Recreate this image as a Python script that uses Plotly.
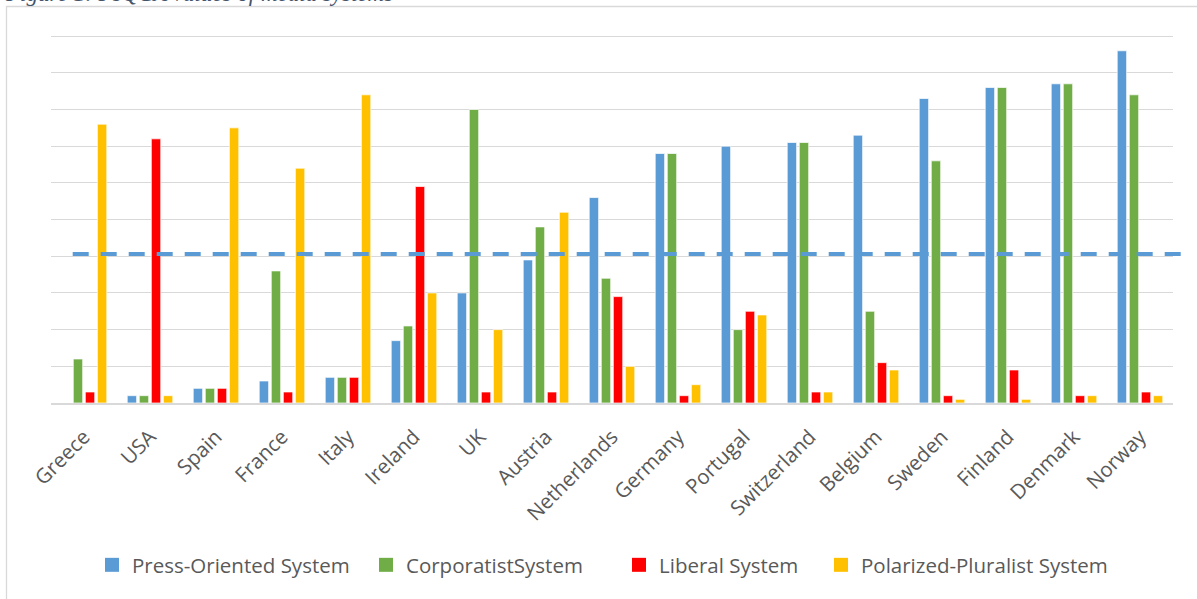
import plotly.graph_objects as go

# Fuzzy-set membership of each country's media system in four ideal types
countries = ["Greece", "USA", "Spain", "France", "Italy", "Ireland", "UK", "Austria",
             "Netherlands", "Germany", "Portugal", "Switzerland", "Belgium", "Sweden",
             "Finland", "Denmark", "Norway"]

press_oriented = [0.00, 0.02, 0.04, 0.06, 0.07, 0.17, 0.30, 0.39, 0.56, 0.68, 0.70,
                  0.71, 0.73, 0.83, 0.86, 0.87, 0.96]
corporatist = [0.12, 0.02, 0.04, 0.36, 0.07, 0.21, 0.80, 0.48, 0.34, 0.68, 0.20,
               0.71, 0.25, 0.66, 0.86, 0.87, 0.84]
liberal = [0.03, 0.72, 0.04, 0.03, 0.07, 0.59, 0.03, 0.03, 0.29, 0.02, 0.25,
           0.03, 0.11, 0.02, 0.09, 0.02, 0.03]
polarized_pluralist = [0.76, 0.02, 0.75, 0.64, 0.84, 0.30, 0.20, 0.52, 0.10, 0.05, 0.24,
                       0.03, 0.09, 0.01, 0.01, 0.02, 0.02]

series_names = ["Press-Oriented System", "CorporatistSystem", "Liberal System",
                "Polarized-Pluralist System"]
threshold = 0.406

W, H = 1197, 599
M_L, M_R, M_T, M_B = 51, 24, 35, 196
plot_w = W - M_L - M_R
plot_h = H - M_T - M_B


def px_x(p):
    return (p - M_L) / plot_w


def px_y(p):
    return (H - M_B - p) / plot_h


colors = ["#5B9BD5", "#70AD47", "#FF0000", "#FFC000"]
label_font = "Open Sans, Noto Sans, sans-serif"
grey_text = "#595959"

# Each series gets its own one-entry legend so the entries can be spaced freely
legend_ids = ["legend", "legend2", "legend3", "legend4"]
legend_text_x = [132, 406, 659, 861]

fig = go.Figure()
for name, vals, col, lid in zip(series_names,
                                [press_oriented, corporatist, liberal, polarized_pluralist],
                                colors, legend_ids):
    fig.add_trace(go.Bar(
        x=countries, y=vals, name=name, legendgroup=name, showlegend=False,
        marker=dict(color=col, line=dict(color="white", width=0.7)),
    ))
    fig.add_trace(go.Scatter(
        x=[None], y=[None], mode="markers", name=name, legendgroup=name,
        legend=lid, showlegend=True,
        marker=dict(symbol="square", size=14, color=col, line=dict(width=0)),
    ))

# Dashed threshold line across the chart
fig.add_shape(type="line", xref="paper", yref="y",
              x0=px_x(72.7), x1=px_x(1181), y0=threshold, y1=threshold,
              line=dict(color="#5B9BD5", width=4, dash="16px,12px"), layer="above")

# Chart-area frame
fig.add_shape(type="rect", xref="paper", yref="paper",
              x0=px_x(6.5), x1=px_x(1230), y0=px_y(630), y1=px_y(6.5),
              line=dict(color="#D9D9D9", width=1.3), fillcolor="rgba(0,0,0,0)",
              layer="below")

# Caption above the chart
fig.add_annotation(text="Figure 1: FsQCA values of media systems",
                   xref="paper", yref="paper", x=px_x(4), y=px_y(7),
                   xanchor="left", yanchor="bottom", showarrow=False,
                   borderpad=0,
                   font=dict(family="Liberation Serif, Times New Roman, serif",
                             size=23, color="#44546A", style="italic"))

legend_style = dict(orientation="h", y=px_y(565), xanchor="left", yanchor="middle",
                    font=dict(family=label_font, size=20.5, color=grey_text),
                    bgcolor="rgba(0,0,0,0)", borderwidth=0)
legends = {lid: dict(legend_style, x=px_x(tx - 40))
           for lid, tx in zip(legend_ids, legend_text_x)}

fig.update_layout(
    width=W, height=H,
    margin=dict(l=M_L, r=M_R, t=M_T, b=M_B),
    paper_bgcolor="white", plot_bgcolor="white",
    barmode="group", bargap=0.27, bargroupgap=0.22,
    showlegend=True,
    font=dict(family=label_font, color=grey_text),
    **legends,
)

fig.update_xaxes(type="category", tickangle=-45, showgrid=False,
                 showline=True, linecolor="#D9D9D9", linewidth=1.5,
                 ticks="", ticklabelstandoff=12,
                 tickfont=dict(family=label_font, size=20.5, color=grey_text))
fig.update_yaxes(range=[0, 1.003], tickvals=[i / 10 for i in range(11)],
                 showticklabels=False, ticks="",
                 showgrid=True, gridcolor="#D9D9D9", gridwidth=1.3,
                 zeroline=False, showline=False)

fig.write_html("out.html")
